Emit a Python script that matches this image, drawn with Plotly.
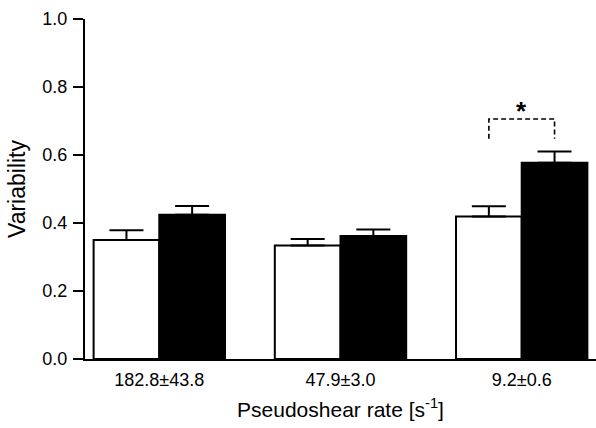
import plotly.graph_objects as go

categories = ["182.8±43.8", "47.9±3.0", "9.2±0.6"]
white_vals = [0.350, 0.334, 0.419]
white_err = [0.029, 0.019, 0.030]
black_vals = [0.424, 0.362, 0.577]
black_err = [0.026, 0.019, 0.033]
y_ticks = [0.0, 0.2, 0.4, 0.6, 0.8, 1.0]
sig_bracket = {"group": 2, "y_low": 0.648, "y_high": 0.706, "label": "*"}

x = list(range(len(categories)))
bargap = 0.275
half_off = (1 - bargap) / 4

font_family = "Liberation Sans, Arial, sans-serif"

fig = go.Figure()
fig.add_trace(go.Bar(
    x=x, y=white_vals, name="white",
    marker=dict(color="white", line=dict(color="black", width=2)),
    error_y=dict(type="data", symmetric=False, array=white_err,
                 arrayminus=[0] * len(white_err), color="black",
                 thickness=2, width=17),
))
fig.add_trace(go.Bar(
    x=x, y=black_vals, name="black",
    marker=dict(color="black", line=dict(color="black", width=2)),
    error_y=dict(type="data", symmetric=False, array=black_err,
                 arrayminus=[0] * len(black_err), color="black",
                 thickness=2, width=17),
))

g = sig_bracket["group"]
xl, xr = g - half_off, g + half_off
fig.add_shape(type="path", xref="x", yref="y",
              path=f"M {xl} {sig_bracket['y_low']} L {xl} {sig_bracket['y_high']} "
                   f"L {xr} {sig_bracket['y_high']} L {xr} {sig_bracket['y_low']}",
              line=dict(color="black", width=1.6, dash="5px,3px"))
fig.add_annotation(x=g, y=sig_bracket["y_high"], text="<b>*</b>", showarrow=False,
                   yanchor="bottom", yshift=-9, font=dict(size=26, color="black", family=font_family))

fig.update_layout(
    width=596, height=428,
    margin=dict(l=85, r=0, t=19, b=69),
    paper_bgcolor="white", plot_bgcolor="white",
    barmode="group", bargap=bargap, bargroupgap=0,
    showlegend=False,
    font=dict(family=font_family, color="black"),
    xaxis=dict(
        range=[-0.41, 2.41], tickmode="array", tickvals=x, ticktext=categories,
        showline=True, linecolor="black", linewidth=2, ticks="",
        showgrid=False, zeroline=False, tickfont=dict(size=18),
        ticklabelstandoff=3,
        title=dict(text="Pseudoshear rate [s<sup>-1</sup>]", font=dict(size=21), standoff=14),
    ),
    yaxis=dict(
        range=[0, 1.0], tickmode="array", tickvals=y_ticks,
        ticktext=[f"{v:.1f}" for v in y_ticks],
        showline=True, linecolor="black", linewidth=2,
        ticks="outside", ticklen=10, tickwidth=2, tickcolor="black",
        showgrid=False, zeroline=False, tickfont=dict(size=18),
        ticklabelstandoff=2,
        title=dict(text="Variability", font=dict(size=23), standoff=10),
    ),
)

fig.write_html("out.html", config={"displayModeBar": False},
               post_script="document.body.style.margin='0';")
